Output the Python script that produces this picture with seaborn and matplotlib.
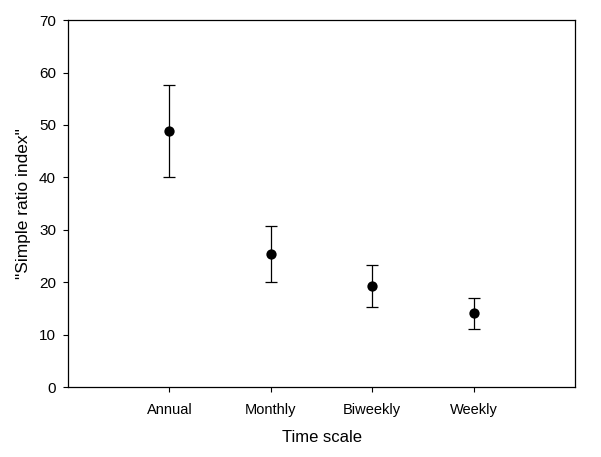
import numpy as np
import pandas as pd
import matplotlib
matplotlib.use('Agg')
import matplotlib.pyplot as plt
import seaborn as sns

# 값
categories = ['Annual', 'Monthly', 'Biweekly', 'Weekly']
means = [48.9, 25.4, 19.3, 14.1]
lower = [40.0, 20.0, 15.3, 11.1]
upper = [57.7, 30.7, 23.2, 17.0]

sns.set_style('ticks')
plt.rcParams['font.family'] = ['Liberation Sans', 'DejaVu Sans']
plt.rcParams['text.color'] = 'black'
plt.rcParams['axes.labelcolor'] = 'black'
plt.rcParams['xtick.color'] = 'black'
plt.rcParams['ytick.color'] = 'black'

df = pd.DataFrame({'category': categories, 'mean': means,
                   'lower': lower, 'upper': upper})
df['pos'] = np.arange(1, len(categories) + 1)

fig = plt.figure(figsize=(6.01, 4.57), dpi=100)
ax = fig.add_axes([0.113, 0.153, 0.844, 0.803])

# 에러바
yerr = np.array([df['mean'] - df['lower'], df['upper'] - df['mean']])
ax.errorbar(df['pos'], df['mean'], yerr=yerr, fmt='none', ecolor='black',
            elinewidth=0.9, capsize=4, capthick=0.9, zorder=2)

# 점
sns.scatterplot(data=df, x='pos', y='mean', ax=ax, color='black', s=55,
                edgecolor='black', linewidth=0, zorder=3, legend=False)

ax.set_xlim(0, 5)
ax.set_ylim(0, 70)
ax.set_xticks(df['pos'])
ax.set_xticklabels(categories)
ax.set_yticks(range(0, 71, 10))
ax.tick_params(axis='both', length=3.6, width=0.8, direction='out')
ax.tick_params(axis='x', labelsize=10.5, pad=8)
ax.tick_params(axis='y', labelsize=11, pad=5)
ax.set_xlabel('Time scale', fontsize=12, labelpad=9)
ax.set_ylabel('"Simple ratio index"', fontsize=12.5, labelpad=6)
for sp in ax.spines.values():
    sp.set_visible(True)
    sp.set_linewidth(0.9)
    sp.set_color('black')

fig.savefig('out.png', dpi=100)
